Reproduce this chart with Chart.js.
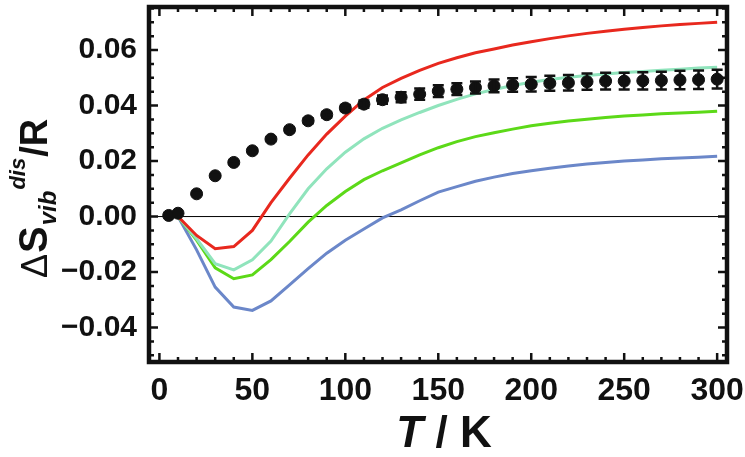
<!DOCTYPE html>
<html><head><meta charset="utf-8">
<script src="https://cdn.jsdelivr.net/npm/chart.js@4/dist/chart.umd.min.js"></script>
<style>html,body{margin:0;padding:0;background:#fff}#wrap{width:745px;height:457px;position:relative}</style>
</head><body><div id="wrap"><canvas id="c" width="745" height="457"></canvas></div>
<script>
// ---- data ----
const T_pts = [5,10,20,30,40,50,60,70,80,90,100,110,120,130,140,150,160,170,180,190,200,210,220,230,240,250,260,270,280,290,300];
const S_pts = [0.0004,0.0012,0.0082,0.0147,0.0195,0.0237,0.0279,0.0313,0.0345,0.0367,0.0391,0.0405,0.0421,0.0430,0.0441,0.0452,0.0459,0.0465,0.0471,0.0474,0.0477,0.0480,0.0482,0.0486,0.0488,0.0488,0.0489,0.0490,0.0492,0.0493,0.0495];
const S_err = [0,0,0.0003,0.0004,0.0005,0.0006,0.0007,0.0008,0.0009,0.0010,0.0011,0.0013,0.0015,0.0018,0.0020,0.0021,0.0021,0.0022,0.0023,0.0024,0.0026,0.0027,0.0028,0.0029,0.0030,0.0030,0.0031,0.0032,0.0033,0.0033,0.0034];
const T_calc = [10,20,30,40,50,60,70,80,90,100,110,120,130,140,150,160,170,180,190,200,210,220,230,240,250,260,270,280,290,300];
const S_red = [0,-0.0068,-0.0116,-0.0108,-0.0050,0.0050,0.0138,0.0222,0.0297,0.0362,0.0420,0.0465,0.0498,0.0527,0.0552,0.0572,0.0590,0.0604,0.0618,0.0630,0.0641,0.0651,0.0660,0.0668,0.0675,0.0681,0.0687,0.0692,0.0696,0.0700];
const S_aqua = [0,-0.0080,-0.0170,-0.0192,-0.0156,-0.0088,0.0010,0.0100,0.0172,0.0232,0.0280,0.0318,0.0348,0.0375,0.0400,0.0422,0.0442,0.0458,0.0472,0.0484,0.0494,0.0502,0.0508,0.0514,0.0519,0.0523,0.0527,0.0531,0.0535,0.0538];
const S_green = [0,-0.0085,-0.0185,-0.0224,-0.0210,-0.0155,-0.0090,-0.0020,0.0040,0.0090,0.0133,0.0165,0.0193,0.0222,0.0248,0.0270,0.0288,0.0302,0.0315,0.0327,0.0336,0.0344,0.0351,0.0357,0.0362,0.0366,0.0370,0.0373,0.0376,0.0379];
const S_blue = [0,-0.0120,-0.0254,-0.0326,-0.0338,-0.0304,-0.0246,-0.0188,-0.0132,-0.0085,-0.0045,-0.0005,0.0024,0.0057,0.0088,0.0108,0.0127,0.0142,0.0155,0.0165,0.0174,0.0182,0.0189,0.0195,0.0200,0.0204,0.0208,0.0211,0.0214,0.0217];
const xTicks = [0,50,100,150,200,250,300];
const yTicks = [-0.04,-0.02,0.00,0.02,0.04,0.06];

const FONT = '"Liberation Sans", Arial, sans-serif';
const pts = (xs, ys) => xs.map((x,i)=>({x:x, y:ys[i]}));
const noPad = s => { s.paddingTop=0; s.paddingBottom=0; s.paddingLeft=0; s.paddingRight=0; };

const framePlugin = {
  id:'frame',
  beforeDatasetsDraw(chart){
    const {ctx, chartArea:a, scales:{x,y}} = chart;
    ctx.save();
    ctx.strokeStyle='#000'; ctx.lineWidth=1;
    const y0 = y.getPixelForValue(0);
    ctx.beginPath(); ctx.moveTo(a.left,y0); ctx.lineTo(a.right,y0); ctx.stroke();
    ctx.restore();
  },
  afterDatasetsDraw(chart){
    const {ctx, chartArea:a, scales:{x,y}} = chart;
    ctx.save();
    ctx.strokeStyle='#111'; ctx.lineWidth=2.5;
    T_pts.forEach((t,i)=>{
      const e=S_err[i]; if(!e) return;
      const px=x.getPixelForValue(t), p1=y.getPixelForValue(S_pts[i]+e), p2=y.getPixelForValue(S_pts[i]-e);
      ctx.beginPath();
      ctx.moveTo(px,p1); ctx.lineTo(px,p2);
      ctx.moveTo(px-5.5,p1); ctx.lineTo(px+5.5,p1);
      ctx.moveTo(px-5.5,p2); ctx.lineTo(px+5.5,p2);
      ctx.stroke();
    });
    ctx.strokeStyle='#111'; ctx.lineWidth=2.5;
    const xt=(v,len)=>{const p=x.getPixelForValue(v);ctx.beginPath();ctx.moveTo(p,a.bottom);ctx.lineTo(p,a.bottom-len);ctx.moveTo(p,a.top);ctx.lineTo(p,a.top+len);ctx.stroke();};
    const yt=(v,len)=>{const p=y.getPixelForValue(v);ctx.beginPath();ctx.moveTo(a.left,p);ctx.lineTo(a.left+len,p);ctx.moveTo(a.right,p);ctx.lineTo(a.right-len,p);ctx.stroke();};
    for(let v=0; v<=300; v+=10) xt(v, v%50===0?9:5);
    for(let k=-10; k<=15; k++){const v=k*0.005; if(v<y.min||v>y.max) continue; yt(v, k%4===0?9:5);}
    ctx.lineWidth=4.5; ctx.strokeStyle='#111';
    ctx.strokeRect(a.left,a.top,a.right-a.left,a.bottom-a.top);
    ctx.restore();
  },
  afterDraw(chart){
    const {ctx, chartArea:a} = chart;
    ctx.save(); ctx.fillStyle='#111'; ctx.textBaseline='alphabetic';
    const f1='italic bold 44px '+FONT, f2='bold 44px '+FONT;
    ctx.font=f1; const w1=ctx.measureText('T').width;
    ctx.font=f2; const w2=ctx.measureText(' / K').width;
    let sx=(a.left+a.right)/2-(w1+w2)/2+6;
    ctx.font=f1; ctx.fillText('T',sx,447);
    ctx.font=f2; ctx.fillText(' / K',sx+w1,447);
    ctx.translate(47,278); ctx.rotate(-Math.PI/2);
    const segs=[
      {t:'\u0394',f:'36px '+FONT,dy:0},
      {t:'S',f:'bold 40px '+FONT,dy:0},
      {t:'vib',f:'italic bold 24px '+FONT,dy:9},
      {t:'dis',f:'italic bold 22px '+FONT,dy:-22},
      {t:'/R',f:'bold 38px '+FONT,dy:0}
    ];
    let cx=0;
    segs.forEach(s=>{ctx.font=s.f; ctx.fillText(s.t,cx,s.dy); cx+=ctx.measureText(s.t).width+1;});
    ctx.restore();
  }
};

new Chart(document.getElementById('c'),{
  data:{datasets:[
    {type:'scatter',label:'exp',data:pts(T_pts,S_pts),backgroundColor:'#111',borderColor:'#111',pointRadius:6,pointHoverRadius:6,order:0},
    {type:'line',label:'red',data:pts(T_calc,S_red),borderColor:'#e8281e',borderWidth:3,pointRadius:0,fill:false,tension:0,order:1},
    {type:'line',label:'aqua',data:pts(T_calc,S_aqua),borderColor:'#90e4bc',borderWidth:3,pointRadius:0,fill:false,tension:0,order:1},
    {type:'line',label:'green',data:pts(T_calc,S_green),borderColor:'#5cd918',borderWidth:3,pointRadius:0,fill:false,tension:0,order:1},
    {type:'line',label:'blue',data:pts(T_calc,S_blue),borderColor:'#6b87c9',borderWidth:3,pointRadius:0,fill:false,tension:0,order:1}
  ]},
  options:{
    responsive:false, animation:false, events:[],
    layout:{padding:{top:6,right:18,left:0,bottom:0}},
    plugins:{legend:{display:false},tooltip:{enabled:false}},
    scales:{
      x:{type:'linear',min:-5.6,max:305.3,
        grid:{display:false,drawTicks:false},border:{display:false},
        afterBuildTicks:s=>{s.ticks=xTicks.map(v=>({value:v}));},
        afterFit:s=>{s.height=95; noPad(s);},
        ticks:{padding:10,color:'#111',font:{family:FONT,size:32,weight:'bold'},maxRotation:0,autoSkip:false}},
      y:{type:'linear',min:-0.0524,max:0.0755,
        grid:{display:false,drawTicks:false},border:{display:false},
        afterBuildTicks:s=>{s.ticks=yTicks.map(v=>({value:v}));},
        afterFit:s=>{s.width=149; noPad(s);},
        ticks:{padding:12,color:'#111',font:{family:FONT,size:30,weight:'bold'},autoSkip:false,
          callback:v=>(v<0?'\u2212':'')+Math.abs(v).toFixed(2)}}
    }
  },
  plugins:[framePlugin]
});
</script></body></html>
